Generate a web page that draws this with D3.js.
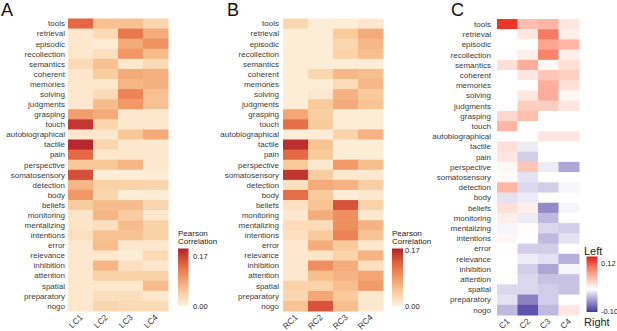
<!DOCTYPE html>
<html>
<head>
<meta charset="utf-8">
<script src="https://cdn.jsdelivr.net/npm/d3@7"></script>
<style>
  body { margin: 0; background: #fff; }
  svg { font-family: "Liberation Sans", Arial, sans-serif; }
  .row-label, .col-label { fill: #3a3a3a; }
</style>
</head>
<body>
<div id="chart"></div>
<script>
// Term rows (top to bottom)
const terms = ["tools", "retrieval", "episodic", "recollection", "semantics", "coherent",
  "memories", "solving", "judgments", "grasping", "touch", "autobiographical", "tactile",
  "pain", "perspective", "somatosensory", "detection", "body", "beliefs", "monitoring",
  "mentalizing", "intentions", "error", "relevance", "inhibition", "attention", "spatial",
  "preparatory", "nogo"];

const colsA = ["LC1", "LC2", "LC3", "LC4"];
const colsB = ["RC1", "RC2", "RC3", "RC4"];
const colsC = ["C1", "C2", "C3", "C4"];

// Pearson correlation, left components (one row per term)
const valuesA = [
  [0.140, 0.058, 0.058, 0.035],
  [0.012, 0.030, 0.125, 0.080],
  [0.012, 0.006, 0.080, 0.104],
  [0.012, 0.023, 0.098, 0.063],
  [0.030, 0.058, 0.012, 0.030],
  [0.012, 0.046, 0.080, 0.075],
  [0.012, 0.012, 0.070, 0.075],
  [0.012, 0.030, 0.115, 0.058],
  [0.012, 0.063, 0.098, 0.058],
  [0.092, 0.080, 0.012, 0.012],
  [0.178, 0.035, 0.012, 0.012],
  [0.012, 0.012, 0.052, 0.080],
  [0.190, 0.035, 0.012, 0.012],
  [0.138, 0.012, 0.012, 0.012],
  [0.052, 0.052, 0.070, 0.012],
  [0.160, 0.006, 0.006, 0.006],
  [0.070, 0.040, 0.040, 0.035],
  [0.098, 0.035, 0.006, 0.006],
  [0.046, 0.063, 0.063, 0.035],
  [0.017, 0.070, 0.046, 0.012],
  [0.017, 0.023, 0.063, 0.040],
  [0.023, 0.058, 0.058, 0.040],
  [0.012, 0.063, 0.012, 0.012],
  [0.012, 0.012, 0.006, 0.030],
  [0.012, 0.070, 0.023, 0.012],
  [0.012, 0.040, 0.040, 0.040],
  [0.012, 0.012, 0.012, 0.063],
  [0.012, 0.023, 0.023, 0.012],
  [0.012, 0.035, 0.030, 0.030]
];

// Pearson correlation, right components
const valuesB = [
  [0.030, 0.005, 0.005, 0.010],
  [0.005, 0.005, 0.045, 0.070],
  [0.005, 0.005, 0.030, 0.060],
  [0.005, 0.005, 0.035, 0.055],
  [0.005, 0.005, 0.005, 0.005],
  [0.005, 0.030, 0.060, 0.055],
  [0.005, 0.005, 0.025, 0.060],
  [0.005, 0.010, 0.065, 0.045],
  [0.005, 0.045, 0.070, 0.050],
  [0.075, 0.040, 0.005, 0.005],
  [0.120, 0.045, 0.005, 0.005],
  [0.005, 0.005, 0.035, 0.065],
  [0.165, 0.050, 0.005, 0.005],
  [0.125, 0.045, 0.005, 0.005],
  [0.045, 0.010, 0.085, 0.055],
  [0.160, 0.040, 0.010, 0.010],
  [0.020, 0.070, 0.065, 0.040],
  [0.120, 0.045, 0.005, 0.010],
  [0.020, 0.050, 0.140, 0.035],
  [0.010, 0.070, 0.095, 0.010],
  [0.025, 0.025, 0.095, 0.065],
  [0.020, 0.045, 0.105, 0.050],
  [0.010, 0.070, 0.045, 0.010],
  [0.010, 0.015, 0.035, 0.065],
  [0.010, 0.095, 0.070, 0.020],
  [0.010, 0.055, 0.065, 0.075],
  [0.035, 0.035, 0.055, 0.085],
  [0.030, 0.075, 0.045, 0.010],
  [0.050, 0.140, 0.055, 0.010]
];

// Left minus right difference
const valuesC = [
  [0.140, 0.050, 0.056, 0.019],
  [0.000, 0.019, 0.100, 0.012],
  [0.000, 0.000, 0.069, 0.056],
  [0.000, 0.012, 0.094, 0.012],
  [0.025, 0.062, 0.006, 0.025],
  [0.000, 0.019, 0.044, 0.038],
  [0.000, 0.000, 0.062, 0.025],
  [0.000, 0.019, 0.062, 0.006],
  [0.000, 0.038, 0.038, 0.019],
  [0.031, 0.050, 0.000, 0.000],
  [0.056, 0.000, 0.000, 0.000],
  [0.000, 0.000, 0.019, 0.019],
  [0.025, -0.010, 0.000, 0.000],
  [0.019, -0.025, 0.000, 0.000],
  [0.006, 0.044, -0.010, -0.045],
  [0.003, -0.015, 0.000, 0.000],
  [0.056, -0.020, -0.025, -0.005],
  [-0.015, -0.010, 0.000, 0.000],
  [0.025, 0.012, -0.060, -0.005],
  [0.012, -0.010, -0.035, 0.000],
  [-0.005, 0.002, -0.020, -0.025],
  [0.006, 0.000, -0.035, -0.015],
  [0.000, -0.025, -0.025, 0.000],
  [0.000, -0.010, -0.015, -0.040],
  [0.000, -0.025, -0.045, -0.005],
  [0.000, -0.020, -0.030, -0.030],
  [-0.020, -0.020, -0.025, -0.030],
  [-0.015, -0.065, -0.025, 0.000],
  [-0.035, -0.090, -0.035, 0.019]
];

const seqColors = ["#FEF1DE", "#F9CB9C", "#F29866", "#E2603D", "#B2202A"];

function renderHeatmap(svg, opts) {
  const { cols, values, x0, x1, y0, y1, color, letter, letterX, labelX } = opts;

  const x = d3.scaleBand().domain(cols).range([x0, x1]);
  const y = d3.scaleBand().domain(terms).range([y0, y1]);

  const cells = [];
  values.forEach((row, i) => row.forEach((v, j) => cells.push({ term: terms[i], col: cols[j], v })));

  const g = svg.append("g");
  g.selectAll("rect")
    .data(cells)
    .join("rect")
    .attr("x", d => x(d.col))
    .attr("y", d => y(d.term))
    .attr("width", x.bandwidth() + 0.5)
    .attr("height", y.bandwidth() + 0.5)
    .attr("fill", d => color(d.v));

  // row labels
  g.selectAll(".row-label")
    .data(terms)
    .join("text")
    .attr("class", "row-label")
    .attr("x", labelX)
    .attr("y", d => y(d) + y.bandwidth() / 2)
    .attr("dy", "0.35em")
    .attr("text-anchor", "end")
    .style("font-size", "8px")
    .text(d => d);

  // column labels, rotated 45°
  g.selectAll(".col-label")
    .data(cols)
    .join("text")
    .attr("class", "col-label")
    .attr("transform", d => `translate(${x(d) + x.bandwidth() / 2 + 1},${y1 + 5}) rotate(-45)`)
    .attr("text-anchor", "end")
    .attr("dy", "0.3em")
    .style("font-size", "8.5px")
    .text(d => d);

  svg.append("text")
    .attr("x", letterX)
    .attr("y", 16)
    .style("font-size", "18px")
    .attr("fill", "#111")
    .text(letter);
}

function renderLegend(svg, opts) {
  const { id, x0, y0, y1, w, domain, stops, ticks, tickX } = opts;
  const ly = d3.scaleLinear().domain(domain).range([y1, y0]);

  const grad = svg.append("defs").append("linearGradient")
    .attr("id", id)
    .attr("x1", 0).attr("x2", 0).attr("y1", 1).attr("y2", 0);
  stops.forEach(s => {
    grad.append("stop")
      .attr("offset", (s.v - domain[0]) / (domain[1] - domain[0]))
      .attr("stop-color", s.c);
  });

  svg.append("rect")
    .attr("x", x0).attr("y", y0)
    .attr("width", w).attr("height", y1 - y0)
    .attr("fill", `url(#${id})`);

  svg.selectAll(null)
    .data(ticks)
    .join("text")
    .attr("x", tickX)
    .attr("y", d => ly(d))
    .attr("dy", "0.4em")
    .style("font-size", "7.5px")
    .attr("fill", "#222")
    .text(d => d.toFixed(2));
  return ly;
}

document.addEventListener("DOMContentLoaded", () => {
  const svg = d3.select("#chart").append("svg").attr("width", 617).attr("height", 331);

  const colorA = d3.scaleLinear().domain(d3.range(5).map(i => i * 0.195 / 4)).range(seqColors).clamp(true);
  const colorB = d3.scaleLinear().domain(d3.range(5).map(i => i * 0.175 / 4)).range(seqColors).clamp(true);
  const colorC = d3.scaleLinear().domain([-0.106, 0, 0.15])
    .range(["#3B3B9C", "#FFFFFF", "#E41A1C"]).interpolate(d3.interpolateLab).clamp(true);

  renderHeatmap(svg, { cols: colsA, values: valuesA, x0: 68, x1: 168, y0: 18.5, y1: 311,
    color: colorA, letter: "A", letterX: 1, labelX: 65 });
  renderHeatmap(svg, { cols: colsB, values: valuesB, x0: 283, x1: 383, y0: 18.5, y1: 311,
    color: colorB, letter: "B", letterX: 227, labelX: 279 });
  renderHeatmap(svg, { cols: colsC, values: valuesC, x0: 497, x1: 579, y0: 19, y1: 315,
    color: colorC, letter: "C", letterX: 451, labelX: 491 });

  // legend titles
  [178, 392].forEach(lx => {
    const t = svg.append("text").attr("x", lx).attr("y", 236).style("font-size", "8px").attr("fill", "#222");
    t.append("tspan").attr("x", lx).text("Pearson");
    t.append("tspan").attr("x", lx).attr("dy", "1.05em").text("Correlation");
  });

  renderLegend(svg, { id: "gA", x0: 178, y0: 248.5, y1: 306, w: 10.5, domain: [0, 0.195],
    stops: colorA.domain().map(v => ({ v, c: colorA(v) })), ticks: [0.17, 0], tickX: 193 });
  renderLegend(svg, { id: "gB", x0: 392, y0: 248.5, y1: 306, w: 11, domain: [0, 0.175],
    stops: colorB.domain().map(v => ({ v, c: colorB(v) })), ticks: [0.17, 0], tickX: 405 });
  renderLegend(svg, { id: "gC", x0: 586.5, y0: 256.5, y1: 312, w: 11, domain: [-0.106, 0.15],
    stops: [-0.106, -0.05, 0, 0.05, 0.1, 0.15].map(v => ({ v, c: colorC(v) })),
    ticks: [0.12, -0.10], tickX: 601 });

  svg.append("text").attr("x", 584).attr("y", 254.5).style("font-size", "11px").attr("fill", "#222").text("Left");
  svg.append("text").attr("x", 584).attr("y", 325.5).style("font-size", "11px").attr("fill", "#222").text("Right");
});
</script>
</body>
</html>
